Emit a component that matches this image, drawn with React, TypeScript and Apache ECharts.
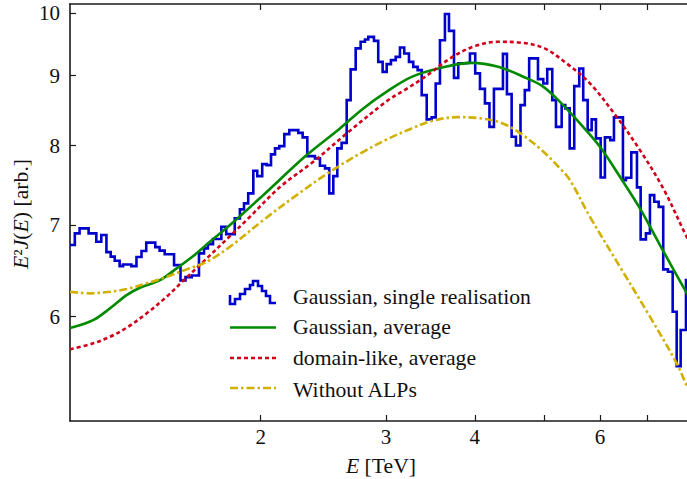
import React, { useEffect, useRef } from 'react';
import * as echarts from 'echarts';

const FONT = 'Liberation Serif';
const BLUE = '#0000cc';
const GREEN = '#008a00';
const RED = '#d0001a';
const YELLOW = '#d2b000';
const INK = '#111111';

const X_MIN = 1.079;
const X_MAX = 8.0;
const Y_MIN = 5.035;
const Y_MAX = 10.15;

const xTickValues = [2, 3, 4, 5, 6, 7];
const xLabelValues = [2, 3, 4, 6];
const yTickValues = [6, 7, 8, 9, 10];

// Gaussian, single realisation: histogram bin edges (TeV) and bin values
const histEdges = [
  1.079, 1.096, 1.113, 1.146, 1.175, 1.194, 1.214, 1.231, 1.247, 1.267,
  1.281, 1.316, 1.338, 1.36, 1.381, 1.422, 1.442, 1.466, 1.511, 1.543,
  1.568, 1.6, 1.638, 1.665, 1.686, 1.714, 1.761, 1.789, 1.839, 1.87,
  1.895, 1.921, 1.953, 1.978, 2.01, 2.039, 2.068, 2.095, 2.124, 2.159,
  2.194, 2.259, 2.291, 2.326, 2.384, 2.423, 2.463, 2.497, 2.53, 2.563,
  2.599, 2.642, 2.676, 2.72, 2.764, 2.803, 2.833, 2.886, 2.926, 2.968,
  3.007, 3.049, 3.096, 3.139, 3.183, 3.232, 3.277, 3.324, 3.368, 3.423,
  3.478, 3.524, 3.573, 3.631, 3.679, 3.739, 3.791, 3.845, 3.937, 4.005,
  4.067, 4.133, 4.194, 4.255, 4.381, 4.438, 4.506, 4.569, 4.637, 4.702,
  4.769, 4.907, 4.992, 5.056, 5.139, 5.201, 5.298, 5.36, 5.437, 5.518,
  5.608, 5.681, 5.763, 5.838, 5.92, 6.01, 6.094, 6.2, 6.275, 6.46,
  6.523, 6.637, 6.76, 6.841, 6.959, 7.05, 7.149, 7.252, 7.36, 7.473,
  7.588, 7.687, 7.787, 7.922, 8.0,
];
const histValues = [
  6.768, 6.902, 6.96, 6.902, 6.805, 6.883, 6.688, 6.638, 6.592, 6.533,
  6.551, 6.533, 6.633, 6.7, 6.796, 6.745, 6.705, 6.664, 6.544, 6.376,
  6.413, 6.43, 6.674, 6.73, 6.779, 6.837, 6.979, 6.894, 7.079, 7.186,
  7.259, 7.382, 7.668, 7.6, 7.755, 7.741, 7.882, 7.962, 7.993, 8.156,
  8.211, 8.173, 8.111, 7.86, 7.83, 7.733, 7.699, 7.382, 7.6, 7.962,
  8.037, 8.635, 9.093, 9.42, 9.525, 9.563, 9.605, 9.54, 9.209, 9.056,
  9.174, 9.236, 9.287, 9.435, 9.34, 9.209, 9.132, 9.082, 8.708, 8.36,
  8.388, 8.881, 9.551, 9.98, 9.702, 8.965, 9.185, 9.194, 9.34, 9.032,
  8.801, 8.588, 8.256, 8.801, 9.334, 8.723, 8.119, 8.002, 8.563, 8.782,
  9.264, 8.946, 8.881, 9.097, 8.635, 8.256, 8.563, 8.516, 7.962, 8.841,
  9.108, 8.635, 8.211, 8.36, 8.097, 7.583, 8.111, 8.074, 8.388, 7.549,
  7.578, 7.909, 7.457, 6.833, 6.902, 7.361, 7.279, 7.217, 6.497, 6.471,
  6.05, 5.522, 5.867, 6.381,
];

// Gaussian, average
const gaussAvgE = [1.079, 1.163, 1.228, 1.296, 1.353, 1.444, 1.524, 1.608, 1.697, 1.811, 2.017, 2.321, 2.585, 2.788, 3.015, 3.26, 3.554, 3.959, 4.315, 4.704, 4.978, 5.269, 5.621, 5.997, 6.398, 6.826, 7.282, 7.946, 8.0];
const gaussAvgV = [5.887, 5.966, 6.085, 6.222, 6.299, 6.381, 6.508, 6.644, 6.805, 6.999, 7.361, 7.873, 8.234, 8.516, 8.767, 8.98, 9.108, 9.194, 9.132, 8.971, 8.841, 8.611, 8.304, 7.984, 7.591, 7.198, 6.768, 6.24, 6.21];

// domain-like, average
const domainE = [1.079, 1.163, 1.228, 1.296, 1.383, 1.475, 1.56, 1.659, 1.811, 1.911, 2.129, 2.371, 2.642, 3.015, 3.19, 3.404, 3.711, 4.001, 4.315, 4.603, 4.992, 5.384, 5.806, 6.33, 6.826, 7.36, 7.938, 8.0];
const domainV = [5.68, 5.737, 5.801, 5.89, 6.034, 6.205, 6.381, 6.577, 6.871, 7.058, 7.461, 7.785, 8.165, 8.628, 8.786, 8.98, 9.278, 9.456, 9.525, 9.515, 9.429, 9.185, 8.881, 8.396, 7.939, 7.444, 6.863, 6.82];

// Without ALPs
const noAlpE = [1.079, 1.151, 1.228, 1.296, 1.383, 1.475, 1.574, 1.679, 1.811, 2.017, 2.247, 2.503, 2.788, 3.015, 3.26, 3.516, 3.791, 4.045, 4.315, 4.603, 4.966, 5.269, 5.442, 5.806, 6.398, 7.05, 7.687, 7.946, 8.0];
const noAlpV = [6.257, 6.24, 6.257, 6.285, 6.346, 6.417, 6.497, 6.58, 6.749, 7.058, 7.361, 7.655, 7.917, 8.087, 8.234, 8.35, 8.392, 8.378, 8.326, 8.187, 7.939, 7.699, 7.549, 7.097, 6.525, 6.0, 5.548, 5.34, 5.31];

const legendNames = [
  'Gaussian, single realisation',
  'Gaussian, average',
  'domain-like, average',
  'Without ALPs',
];

export default function App() {
  const ref = useRef<HTMLDivElement>(null);

  useEffect(() => {
    if (!ref.current) return;
    const chart = echarts.init(ref.current, null, { renderer: 'svg' });

    const pairs = (xs: number[], ys: number[]) => xs.map((x, i) => [x, ys[i]]);
    const histData = histEdges.map((e, i) => [e, histValues[Math.min(i, histValues.length - 1)]]);

    const axisLine = { show: true, onZero: false, lineStyle: { color: '#1a1a1a', width: 1.6 } };
    const tickStyle = { color: '#1a1a1a', width: 1.2 };
    const labelStyle = { color: INK, fontFamily: FONT, fontSize: 21 };

    const textBase = { fontFamily: FONT, fontSize: 21.7, fill: INK };
    const rich = { i: { fontStyle: 'italic', fontFamily: FONT, fontSize: 21.7, color: INK } };

    const legendX = 293;
    const legendY = [296.5, 327, 357.5, 389.5];

    chart.setOption({
      animation: false,
      backgroundColor: '#ffffff',
      grid: { left: 70, top: 4, right: -2, bottom: 58, containLabel: false, outerBoundsMode: 'none' },
      xAxis: [
        {
          type: 'log', logBase: 10, min: X_MIN, max: X_MAX, position: 'bottom',
          axisLine,
          axisTick: { show: true, inside: true, length: 6, customValues: xTickValues, lineStyle: tickStyle },
          minorTick: { show: false },
          axisLabel: { show: true, customValues: xLabelValues, margin: 5, ...labelStyle },
          splitLine: { show: false },
        },
        {
          type: 'log', logBase: 10, min: X_MIN, max: X_MAX, position: 'top',
          axisLine,
          axisTick: { show: true, inside: true, length: 6, customValues: xTickValues, lineStyle: tickStyle },
          minorTick: { show: false },
          axisLabel: { show: false },
          splitLine: { show: false },
        },
      ],
      yAxis: [
        {
          type: 'log', logBase: 10, min: Y_MIN, max: Y_MAX, position: 'left',
          axisLine,
          axisTick: { show: true, inside: true, length: 6, customValues: yTickValues, lineStyle: tickStyle },
          minorTick: { show: false },
          axisLabel: { show: true, customValues: yTickValues, margin: 10, ...labelStyle },
          splitLine: { show: false },
        },
      ],
      series: [
        {
          name: legendNames[0], type: 'line', step: 'end', data: histData,
          showSymbol: false, symbol: 'none',
          lineStyle: { color: BLUE, width: 2.6, join: 'miter' },
          z: 2,
        },
        {
          name: legendNames[1], type: 'line', data: pairs(gaussAvgE, gaussAvgV), smooth: 0.35,
          showSymbol: false, symbol: 'none',
          lineStyle: { color: GREEN, width: 2.6 },
          z: 3,
        },
        {
          name: legendNames[2], type: 'line', data: pairs(domainE, domainV), smooth: 0.35,
          showSymbol: false, symbol: 'none',
          lineStyle: { color: RED, width: 2.6, type: [4, 3] },
          z: 4,
        },
        {
          name: legendNames[3], type: 'line', data: pairs(noAlpE, noAlpV), smooth: 0.35,
          showSymbol: false, symbol: 'none',
          lineStyle: { color: YELLOW, width: 2.6, type: [8, 3, 2.5, 3] },
          z: 5,
        },
      ],
      graphic: [
        {
          type: 'polyline', silent: true, z: 10,
          shape: {
            points: [
              [230, 295], [230, 304], [235, 304], [235, 299], [240, 299], [240, 294],
              [245, 294], [245, 289], [250, 289], [250, 285], [253, 285], [253, 281],
              [258, 281], [258, 286], [262, 286], [262, 291], [266, 291], [266, 296],
              [270, 296], [270, 303], [276, 303],
            ],
          },
          style: { stroke: BLUE, lineWidth: 2.6, fill: 'none', lineJoin: 'miter' },
        },
        {
          type: 'line', silent: true, z: 10,
          shape: { x1: 230, y1: 327.5, x2: 276, y2: 327.5 },
          style: { stroke: GREEN, lineWidth: 2.6 },
        },
        {
          type: 'line', silent: true, z: 10,
          shape: { x1: 230, y1: 358, x2: 276, y2: 358 },
          style: { stroke: RED, lineWidth: 2.6, lineDash: [4, 3] },
        },
        {
          type: 'line', silent: true, z: 10,
          shape: { x1: 230, y1: 388, x2: 276, y2: 388 },
          style: { stroke: YELLOW, lineWidth: 2.6, lineDash: [8, 3, 2.5, 3] },
        },
        ...legendNames.map((name, i) => ({
          type: 'text', silent: true, z: 10, x: legendX, y: legendY[i],
          style: { ...textBase, text: name, align: 'left', verticalAlign: 'middle' },
        })),
        {
          type: 'text', silent: true, z: 10, x: 381, y: 466,
          style: { ...textBase, text: '{i|E} [TeV]', rich, align: 'center', verticalAlign: 'middle' },
        },
        {
          type: 'text', silent: true, z: 10, x: 21, y: 214, rotation: Math.PI / 2,
          style: { ...textBase, text: '{i|E}²{i|J}({i|E}) [arb.]', rich, align: 'center', verticalAlign: 'middle' },
        },
      ],
    });

    return () => chart.dispose();
  }, []);

  return (
    <div style={{ position: 'fixed', left: 0, top: 0, width: 687, height: 479, overflow: 'hidden', background: '#fff' }}>
      <div ref={ref} style={{ width: 687, height: 479 }} />
    </div>
  );
}
